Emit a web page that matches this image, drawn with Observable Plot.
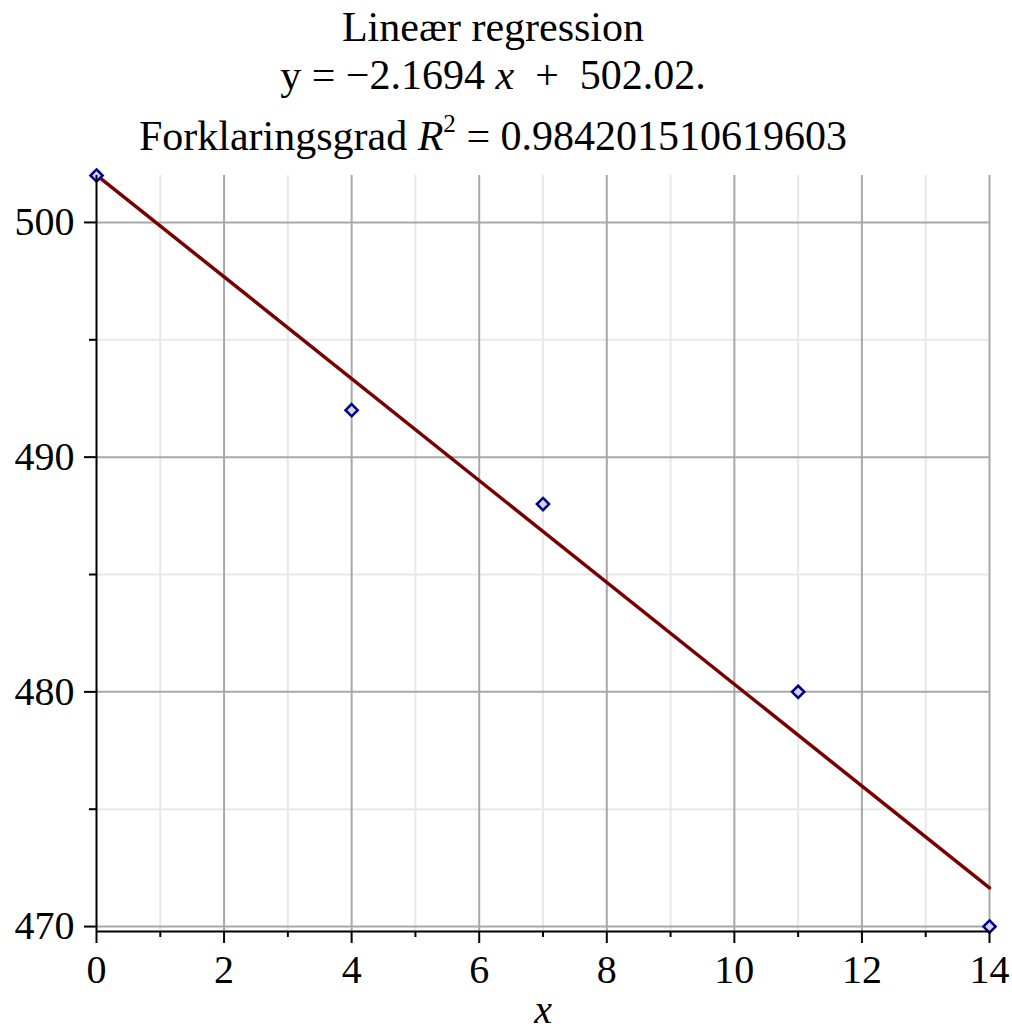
<!DOCTYPE html>
<html>
<head>
<meta charset="utf-8">
<script src="https://cdn.jsdelivr.net/npm/d3@7"></script>
<script src="https://cdn.jsdelivr.net/npm/@observablehq/plot@0.6"></script>
<style>
  body { margin: 0; background: #fff; font-family: "Liberation Serif", "Times New Roman", serif; }
  #wrap { position: relative; width: 1012px; height: 1032px; overflow: hidden; }
  #title { position: relative; width: 986px; height: 160px; }
  #title div { position: absolute; left: 0; width: 986px; text-align: center; font-size: 42px; line-height: 42px; color: #000; white-space: pre; }
  .sup { position: relative; top: -0.72em; font-size: 0.6em; }
  svg { display: block; }
  svg text { font-family: "Liberation Serif", "Times New Roman", serif !important; }
</style>
</head>
<body>
<div id="wrap">
  <div id="title">
    <div style="top:6px">Lineær regression</div>
    <div style="top:54px">y = −2.1694 <i>x</i>  +  502.02.</div>
    <div style="top:115px">Forklaringsgrad <i>R</i><span class="sup">2</span> = 0.984201510619603</div>
  </div>
  <div id="chart"></div>
</div>
<script>
// Data
const xs = [0, 4, 7, 11, 14];
const ys = [502, 492, 488, 480, 470];
const xMajorTicks = [0, 2, 4, 6, 8, 10, 12, 14];
const xMinorTicks = [1, 3, 5, 7, 9, 11, 13];
const yMajorTicks = [470, 480, 490, 500];
const yMinorTicks = [475, 485, 495];
const xDomain = [0, 14];
const yDomain = [469.79, 502];

const data = xs.map((x, i) => ({x, y: ys[i]}));

const plot = Plot.plot({
  width: 1012,
  height: 872,
  marginTop: 15,
  marginBottom: 101,
  marginLeft: 96,
  marginRight: 23,
  style: {fontFamily: "'Liberation Serif', 'Times New Roman', serif", fontSize: "40px", color: "#000", background: "#fff"},
  x: {domain: xDomain},
  y: {domain: yDomain},
  marks: [
    Plot.ruleX(xMinorTicks, {stroke: "#e8e8e8", strokeWidth: 2}),
    Plot.ruleY(yMinorTicks, {stroke: "#e8e8e8", strokeWidth: 2}),
    Plot.ruleX(xMajorTicks.filter(d => d !== 0), {stroke: "#a8a8a8", strokeWidth: 2}),
    Plot.ruleY(yMajorTicks, {stroke: "#a8a8a8", strokeWidth: 2}),
    Plot.linearRegressionY(data, {x: "x", y: "y", stroke: "#7a0000", strokeWidth: 3.5, ci: 0}),
    Plot.dot(data, {x: "x", y: "y", symbol: "diamond2", r: 5.5, stroke: "#00007f", strokeWidth: 2.5, fill: "#d4d4ee"}),
    Plot.ruleX([xDomain[0]], {stroke: "#000", strokeWidth: 2}),
    Plot.ruleY([yDomain[0]], {stroke: "#000", strokeWidth: 2}),
    Plot.axisY({ticks: yMajorTicks, tickSize: 12, tickPadding: 10, strokeWidth: 2, fontSize: 40, label: null}),
    Plot.axisY({ticks: yMinorTicks, tickSize: 7, tickFormat: () => "", strokeWidth: 2, label: null}),
    Plot.axisX({ticks: xMajorTicks, tickSize: 12, tickPadding: 11, strokeWidth: 2, fontSize: 40, label: "x", labelAnchor: "center", labelArrow: "none", labelOffset: 91}),
    Plot.axisX({ticks: xMinorTicks, tickSize: 6, tickFormat: () => "", strokeWidth: 2, label: null})
  ]
});

document.getElementById("chart").appendChild(plot);
d3.select(plot).selectAll('g[aria-label="x-axis label"] text').style("font-style", "italic");
</script>
</body>
</html>
